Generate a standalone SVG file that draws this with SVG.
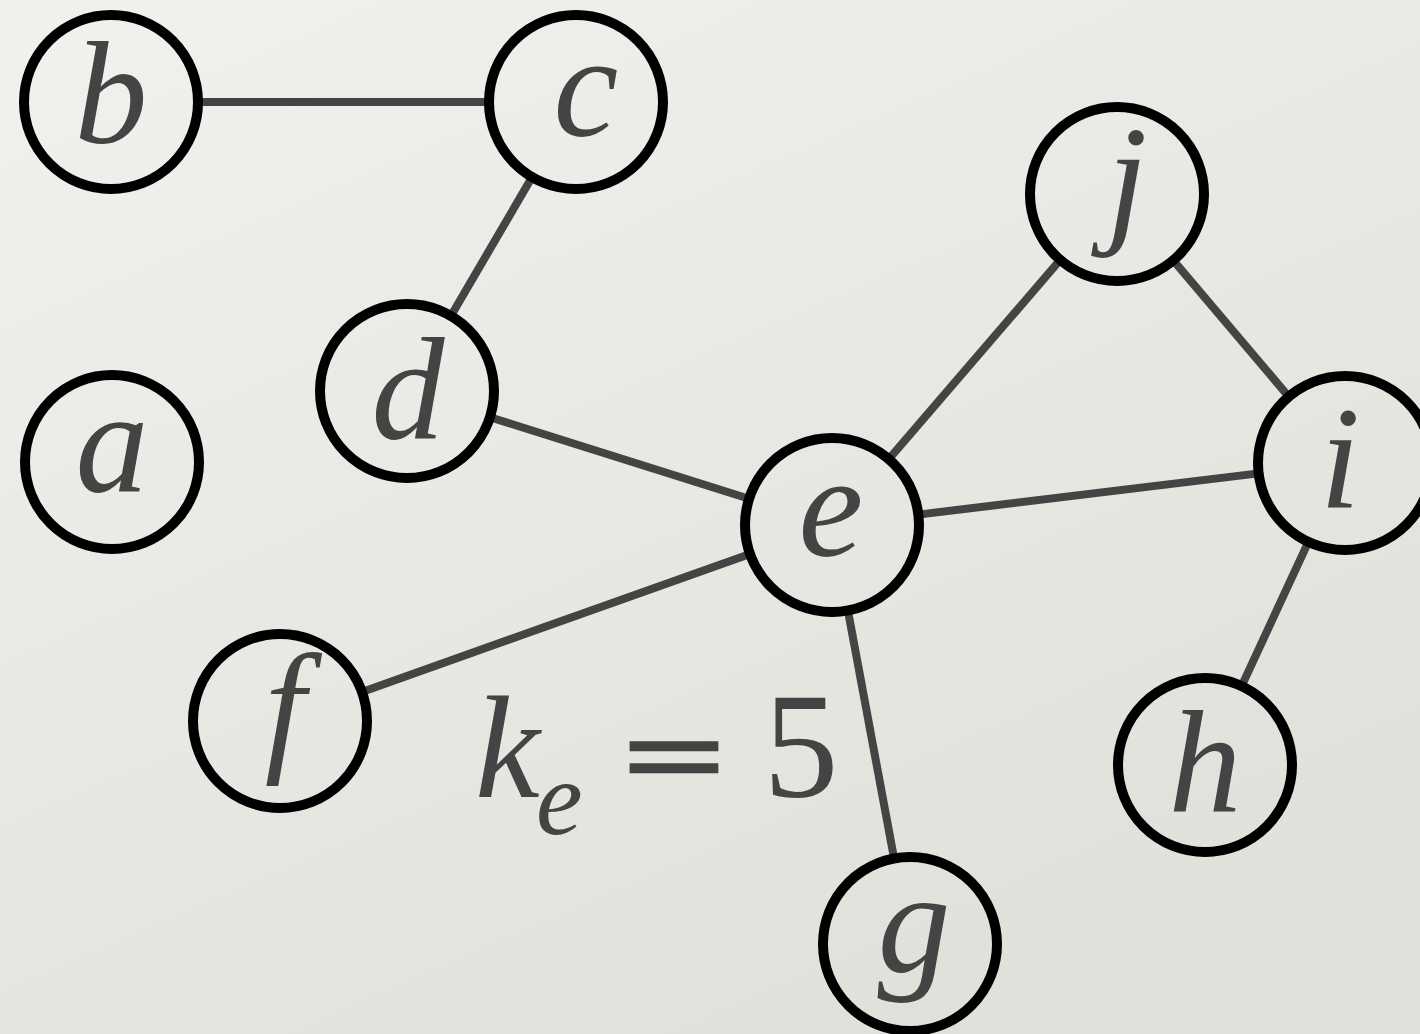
<svg xmlns="http://www.w3.org/2000/svg" width="1420" height="1034" viewBox="0 0 1420 1034">
  <defs>
    <linearGradient id="bg" x1="0" y1="0" x2="0.6" y2="1">
      <stop offset="0" stop-color="#f2f1ed"/>
      <stop offset="1" stop-color="#e2e0db"/>
    </linearGradient>
    <style>
      .node circle { fill: none; stroke: #000; stroke-width: 10; }
      .node text { font-style: italic; font-size: 146px; fill: #444; text-anchor: middle; }
      .edges line { stroke: #444; stroke-width: 8; }
      .formula text { fill: #444; }
    </style>
  </defs>
  <rect width="1420" height="1034" fill="url(#bg)"/>

  <g id="edges" class="edges">
    <line x1="198" y1="102" x2="489" y2="102"/>
    <line x1="532.1" y1="177.1" x2="450.9" y2="315.9"/>
    <line x1="490" y1="417.2" x2="749" y2="498.8"/>
    <line x1="888.8" y1="459.1" x2="1060.2" y2="259.9"/>
    <line x1="1173.3" y1="260.4" x2="1288.7" y2="396.6"/>
    <line x1="918.4" y1="514.6" x2="1258.6" y2="473.4"/>
    <line x1="1308.4" y1="541.9" x2="1241.6" y2="686.1"/>
    <line x1="750" y1="554.1" x2="362" y2="691.9"/>
    <line x1="847.9" y1="610.5" x2="894.1" y2="858.5"/>
  </g>

  <g id="nodes" font-family="Liberation Serif">
    <g id="node-a" class="node"><circle cx="112" cy="462" r="87"/><text x="112" y="492">a</text></g>
    <g id="node-b" class="node"><circle cx="111" cy="102" r="87"/><text x="111" y="143">b</text></g>
    <g id="node-c" class="node"><circle cx="576" cy="102" r="87"/><text x="586" y="136">c</text></g>
    <g id="node-d" class="node"><circle cx="407" cy="391" r="87"/><text x="408" y="439">d</text></g>
    <g id="node-e" class="node"><circle cx="832" cy="525" r="87"/><text x="831" y="556">e</text></g>
    <g id="node-f" class="node"><circle cx="280" cy="721" r="87"/><text x="285" y="755">f</text></g>
    <g id="node-g" class="node"><circle cx="910" cy="944" r="87"/><text x="914" y="972">g</text></g>
    <g id="node-h" class="node"><circle cx="1205" cy="765" r="87"/><text x="1205" y="812">h</text></g>
    <g id="node-i" class="node"><circle cx="1345" cy="463" r="87"/><text x="1340" y="507">i</text></g>
    <g id="node-j" class="node"><circle cx="1117" cy="194" r="87"/><text x="1127" y="227">j</text></g>
  </g>

  <g id="formula" class="formula" font-family="Liberation Serif">
    <text x="475" y="797" font-size="146" font-style="italic">k</text>
    <text x="536" y="834" font-size="105" font-style="italic">e</text>
    <text transform="translate(674,794) scale(1.2,0.75)" font-size="146" text-anchor="middle" stroke="#444" stroke-width="6">=</text>
    <text x="801" y="797" font-size="150" text-anchor="middle">5</text>
  </g>
</svg>
